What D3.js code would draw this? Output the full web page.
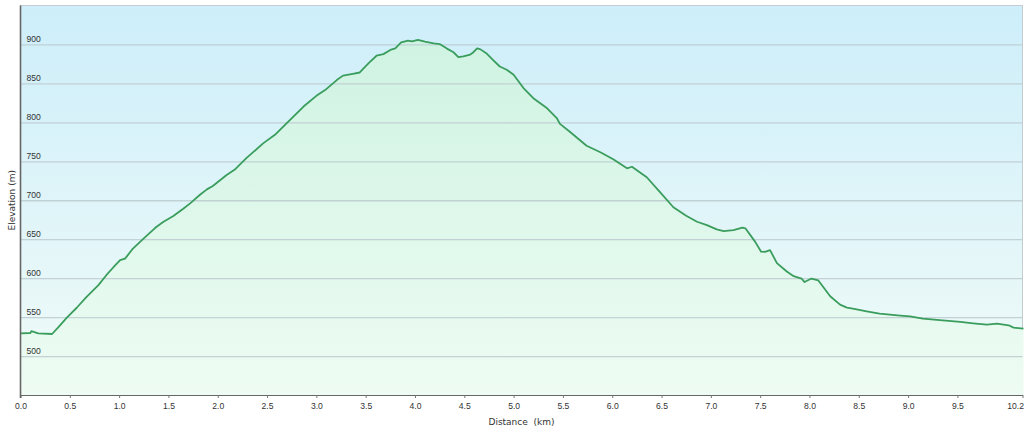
<!DOCTYPE html>
<html>
<head>
<meta charset="utf-8">
<style>
  body { margin: 0; background: #fff; }
  svg { display: block; font-family: "DejaVu Sans", Verdana, sans-serif; }
  .tick text { fill: #333; font-size: 8.6px; }
</style>
<script src="https://d3js.org/d3.v7.min.js"></script>
</head>
<body>
<svg width="1024" height="428"></svg>
<script>
// profile: distance (km) and elevation (m)
var distance = [0, 0.1, 0.11, 0.18, 0.32, 0.38, 0.47, 0.57, 0.67, 0.79, 0.87, 0.94, 1.01, 1.06, 1.14, 1.25, 1.35, 1.38, 1.45, 1.55, 1.65, 1.72, 1.82, 1.89, 1.95, 2.09, 2.17, 2.29, 2.46, 2.58, 2.70, 2.87, 3.00, 3.10, 3.21, 3.27, 3.37, 3.44, 3.53, 3.61, 3.68, 3.75, 3.80, 3.86, 3.93, 3.97, 4.03, 4.10, 4.19, 4.25, 4.32, 4.39, 4.44, 4.49, 4.56, 4.59, 4.63, 4.66, 4.73, 4.79, 4.86, 4.93, 5.00, 5.10, 5.20, 5.34, 5.44, 5.47, 5.57, 5.74, 5.88, 6.01, 6.15, 6.20, 6.35, 6.48, 6.62, 6.75, 6.86, 6.96, 7.06, 7.13, 7.23, 7.32, 7.35, 7.45, 7.51, 7.55, 7.60, 7.67, 7.77, 7.84, 7.92, 7.95, 8.02, 8.09, 8.21, 8.31, 8.38, 8.44, 8.58, 8.71, 8.92, 9.02, 9.15, 9.32, 9.53, 9.66, 9.80, 9.90, 10.02, 10.07, 10.17];
var elevation = [529, 529.6, 532, 529, 528.3, 536.5, 549.4, 562, 576, 591, 603.8, 613.7, 623, 625, 638, 651, 662.6, 666, 672.3, 679.7, 689, 696, 707, 714, 718.3, 732.4, 739, 754, 773, 784, 799, 820.3, 834, 842.6, 854.6, 860, 862.3, 864, 876, 885.5, 887.6, 893, 895, 902.6, 905, 904, 906, 903.5, 901.3, 900.5, 895, 890, 883.8, 884.6, 887, 889.7, 895, 894, 888, 880.3, 871.7, 867.5, 861, 844, 831, 818, 805, 798, 788, 770, 761.6, 752.6, 741, 743, 729.5, 711, 691, 680, 672.4, 668, 662.6, 660.4, 661.7, 665, 664, 646.6, 634, 633.8, 636, 619.3, 608.5, 602.5, 599.5, 595, 599.5, 597, 576.8, 566, 562.2, 561, 557.5, 554.5, 552, 551, 548, 546, 543.8, 542, 540.4, 541.7, 539.5, 536.5, 535.2];
var xTicks = [0, 0.5, 1, 1.5, 2, 2.5, 3, 3.5, 4, 4.5, 5, 5.5, 6, 6.5, 7, 7.5, 8, 8.5, 9, 9.5, 10.16];
var yTicks = [500, 550, 600, 650, 700, 750, 800, 850, 900];

var data = distance.map(function(d, i) { return { km: d, m: elevation[i] }; });

var svg = d3.select("svg");
var pLeft = 20.5, pRight = 1022.5, pTop = 5.5, pBottom = 395;

var x = d3.scaleLinear().domain([0, 10.16]).range([pLeft, pRight]);
var y = d3.scaleLinear().domain([450, 950]).range([pBottom, pTop]);

var defs = svg.append("defs");
var bg = defs.append("linearGradient").attr("id", "bg").attr("x1", 0).attr("y1", 0).attr("x2", 0).attr("y2", 1);
bg.append("stop").attr("offset", "0%").attr("stop-color", "#cdeefa");
bg.append("stop").attr("offset", "100%").attr("stop-color", "#f1fbf8");
var fill = defs.append("linearGradient").attr("id", "fill").attr("x1", 0).attr("y1", 0).attr("x2", 0).attr("y2", 1);
fill.append("stop").attr("offset", "0%").attr("stop-color", "#cff3e2");
fill.append("stop").attr("offset", "100%").attr("stop-color", "#eefcf3");

// plot background
svg.append("rect")
   .attr("x", pLeft).attr("y", pTop)
   .attr("width", pRight - pLeft).attr("height", pBottom - pTop)
   .attr("fill", "url(#bg)")
   .attr("stroke", "#c4ccd0")
   .attr("stroke-width", 1);

// area under the profile
var area = d3.area()
   .x(function(d) { return x(d.km); })
   .y0(pBottom)
   .y1(function(d) { return y(d.m); });

svg.append("path")
   .datum(data)
   .attr("fill", "url(#fill)")
   .attr("d", area);

// grid lines + labels inside the plot
var grid = svg.append("g")
   .attr("transform", "translate(" + pLeft + ",0)")
   .call(d3.axisRight(y).tickValues(yTicks).tickSize(pRight - pLeft).tickFormat(d3.format("d")));
grid.select(".domain").remove();
grid.selectAll(".tick line").attr("stroke", "#bccbd0").attr("stroke-width", 1.3).attr("stroke-opacity", 0.85);
grid.selectAll(".tick text")
   .attr("x", 6)
   .attr("dy", "-3px")
   .attr("text-anchor", "start");

// profile line
var line = d3.line()
   .x(function(d) { return x(d.km); })
   .y(function(d) { return y(d.m); });

svg.append("path")
   .datum(data)
   .attr("fill", "none")
   .attr("stroke", "#3a9d5d")
   .attr("stroke-width", 1.8)
   .attr("stroke-linejoin", "round")
   .attr("d", line);

// bottom axis
var xAxis = svg.append("g")
   .attr("transform", "translate(0," + pBottom + ")")
   .call(d3.axisBottom(x).tickValues(xTicks).tickSize(3).tickSizeOuter(0)
      .tickFormat(function(d) { return d > 10 ? "10.2" : d3.format(".1f")(d); }));
xAxis.select(".domain").attr("stroke", "#666").attr("stroke-width", 1.2);
xAxis.selectAll(".tick line").attr("stroke", "#777");
xAxis.selectAll(".tick text").attr("dy", "0.95em");
xAxis.selectAll(".tick text").filter(function(d) { return d > 10; }).attr("text-anchor", "end").attr("x", 1);

// left axis line
svg.append("line")
   .attr("x1", pLeft).attr("x2", pLeft)
   .attr("y1", pTop).attr("y2", pBottom + 3)
   .attr("stroke", "#666")
   .attr("stroke-width", 1.6);

svg.append("text")
   .attr("x", (pLeft + pRight) / 2)
   .attr("y", 425)
   .attr("text-anchor", "middle")
   .attr("font-size", "9px")
   .attr("fill", "#333")
   .attr("xml:space", "preserve")
   .text("Distance  (km)");

svg.append("text")
   .attr("transform", "translate(15," + ((pTop + pBottom) / 2) + ") rotate(-90)")
   .attr("text-anchor", "middle")
   .attr("font-size", "9px")
   .attr("fill", "#333")
   .text("Elevation (m)");
</script>
</body>
</html>
